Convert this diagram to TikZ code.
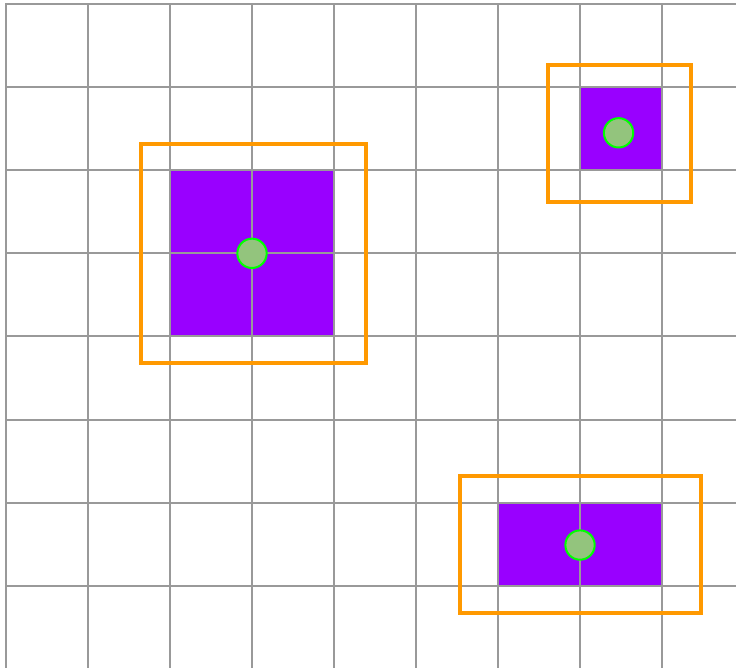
\documentclass[tikz,border=0pt]{standalone}
\usepackage{tikz}
\definecolor{gridgray}{HTML}{999999}
\definecolor{cellpurple}{HTML}{9900FF}
\definecolor{spotfill}{HTML}{93C47D}
\definecolor{spotline}{HTML}{00FF00}
\definecolor{boxorange}{HTML}{FF9900}
\begin{document}
\begin{tikzpicture}[x=61.5pt,y=-62.33pt]
	 \tikzstyle{grid line}=[draw,line width=1.5pt,gridgray]
	 \tikzstyle{cell} = [fill=cellpurple]
	 \tikzstyle{spot} = [circle,minimum size=22pt,inner sep=0pt,fill=spotfill,draw=spotline,line width=1.5pt]
	 \tikzstyle{frame} = [draw,line width=3pt,boxorange]

	 \useasboundingbox (-0.0732,-0.0481) rectangle (8.902,7.978);
	 \clip (-0.0732,-0.0481) rectangle (8.902,7.978);

	 % purple cells
	 \fill[cell] (2,2) rectangle (4,4);
	 \fill[cell] (7,1) rectangle (8,2);
	 \fill[cell] (6,6) rectangle (8,7);

	 % grid
	 \foreach \i in {0,...,9}
	   \draw[grid line] (\i,-0.012) -- (\i,8.5);
	 \foreach \j in {0,...,8}
	   \draw[grid line] (-0.012,\j) -- (9.5,\j);

	 % centres
	 \node[spot] (c1) at (3,3) {};
	 \node[spot] (c2) at (7.47,1.55) {};
	 \node[spot] (c3) at (7,6.51) {};

	 % orange frames
	 \draw[frame] (1.646,1.685) rectangle (4.39,4.32);
	 \draw[frame] (6.61,0.734) rectangle (8.354,2.383);
	 \draw[frame] (5.537,5.68) rectangle (8.476,7.33);
\end{tikzpicture}
\end{document}
